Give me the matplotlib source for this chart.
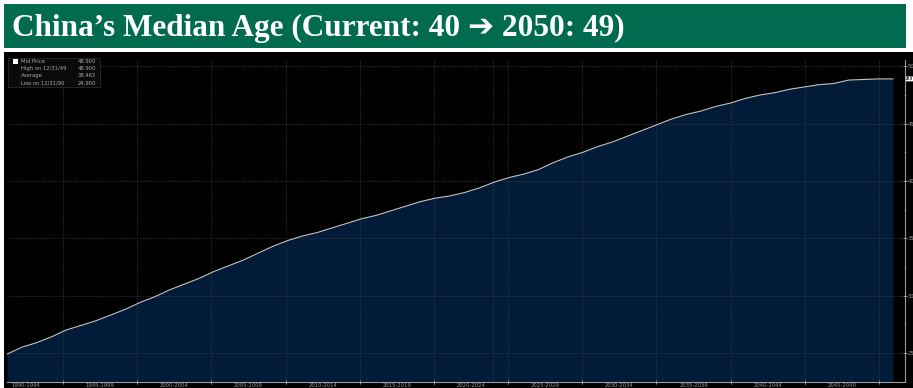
import matplotlib
matplotlib.use("Agg")
import matplotlib.pyplot as plt
import numpy as np
from matplotlib.patches import Rectangle

# China median age, annual, 1990-2050
years = list(range(1990, 2051))
median_age = [
    24.9, 25.5, 25.9, 26.4, 27.0, 27.4, 27.8, 28.3, 28.8, 29.4,
    29.9, 30.5, 31.0, 31.5, 32.1, 32.6, 33.1, 33.7, 34.3, 34.8,
    35.2, 35.5, 35.9, 36.3, 36.7, 37.0, 37.4, 37.8, 38.2, 38.5,
    38.7, 39.0, 39.4, 39.9, 40.3, 40.6, 41.0, 41.6, 42.1, 42.5,
    43.0, 43.4, 43.9, 44.4, 44.9, 45.4, 45.8, 46.1, 46.5, 46.8,
    47.2, 47.5, 47.7, 48.0, 48.2, 48.4, 48.5, 48.8, 48.85, 48.9,
    48.9,
]
period_labels = ["1990-1994", "1995-1999", "2000-2004", "2005-2009",
                 "2010-2014", "2015-2019", "2020-2024", "2025-2029",
                 "2030-2034", "2035-2039", "2040-2044", "2045-2049"]
y_ticks = [25, 30, 35, 40, 45, 50]
legend_rows = [("Mid Price", "48.900"), ("High on 12/31/49", "48.900"),
               ("Average", "38.462"), ("Low on 12/31/90", "24.900")]
title = "China\u2019s Median Age (Current: 40 \u2794 2050: 49)"
last_value = 48.9

W, H = 913, 388
fig = plt.figure(figsize=(W / 100, H / 100), dpi=100)
fig.patch.set_facecolor("white")


def fx(px):
    return px / W


def fy(py):
    return 1 - py / H


# green title banner
fig.patches.append(Rectangle((fx(4), fy(48)), fx(902), 44 / H,
                             transform=fig.transFigure, facecolor="#006B4F",
                             edgecolor="none", zorder=-2))
fig.text(fx(12), fy(28), title, color="white", fontsize=22.5,
         fontweight="bold", family=["Liberation Serif", "DejaVu Sans"],
         va="center", ha="left")

# black terminal panel
fig.patches.append(Rectangle((fx(4), 0), fx(909), fy(52),
                             transform=fig.transFigure, facecolor="black",
                             edgecolor="none", zorder=-2))

ax = fig.add_axes([fx(7), fy(382), fx(898), (382 - 60) / H])
ax.patch.set_alpha(0)

x = np.array(years, dtype=float)
y = np.array(median_age)
ymin, ymax = 22.47, 50.55
ax.fill_between(x, ymin, y, color="#021B38", lw=0, zorder=1)
ax.plot(x, y, color="#C4C4C4", lw=0.8, zorder=3)

x_left = 1990.0
x_right = 1990 + (905 - 7) / 14.767
ax.set_xlim(x_left, x_right)
ax.set_ylim(ymin, ymax)

# period boundaries and labels
bounds = np.linspace(1993.79, 2049.05, 12)
step = bounds[1] - bounds[0]
centers = np.concatenate([[bounds[0] - step / 2], bounds[:-1] + step / 2])
ax.set_xticks(bounds)
ax.set_xticklabels([])
for cx, lab in zip(centers, period_labels):
    ax.text(cx, -3.3 / 322, lab, transform=ax.get_xaxis_transform(),
            ha="center", va="center", color="#9A9A9A", fontsize=3.8)

ax.yaxis.tick_right()
ax.set_yticks(y_ticks)
ax.set_yticks([27.5, 32.5, 37.5, 42.5, 47.5], minor=True)
ax.set_yticklabels([str(v) for v in y_ticks], color="#9A9A9A", fontsize=3.8)
ax.tick_params(axis="y", which="major", length=3, width=0.6,
               color="#BBBBBB", pad=0.5, direction="inout")
ax.tick_params(axis="y", which="minor", length=2, width=0.5,
               color="#888888", direction="inout")
ax.tick_params(axis="x", length=3, width=0.6, color="#BBBBBB",
               direction="inout")

for v in y_ticks:
    ax.axhline(v, color="#3F3F3F", lw=0.6, ls=(0, (1, 1.5)), zorder=2)
for b in bounds:
    ax.axvline(b, color="#3F3F3F", lw=0.6, ls=(0, (1, 1.5)), zorder=2)
ax.axvline(2022.9, color="#3F3F3F", lw=0.6, ls=(0, (1, 1.5)), zorder=2)

for side in ("left", "top"):
    ax.spines[side].set_visible(False)
for side in ("right", "bottom"):
    ax.spines[side].set_color("#9A9A9A")
    ax.spines[side].set_linewidth(0.8)

# last value tag
ax.text(1.0015, last_value, "48.9", transform=ax.get_yaxis_transform(),
        ha="left", va="center", fontsize=2.1, color="black",
        fontweight="bold",
        bbox=dict(boxstyle="round,pad=0.15", fc="white", ec="none"),
        clip_on=False)

# legend box
fig.patches.append(Rectangle((fx(8), fy(87)), fx(92), 29 / H,
                             transform=fig.transFigure,
                             facecolor="#0A0A0A", edgecolor="#2A2A2A",
                             lw=0.6, zorder=5))
fig.patches.append(Rectangle((fx(13), fy(64)), fx(5), 5 / H,
                             transform=fig.transFigure, facecolor="white",
                             edgecolor="none", zorder=6))
for i, (name, val) in enumerate(legend_rows):
    yy = fy(61.5 + i * 7.2)
    fig.text(fx(21), yy, name, color="#A8A8A8", fontsize=3.8,
             va="center", ha="left", zorder=7)
    fig.text(fx(96), yy, val, color="#A8A8A8", fontsize=3.8,
             va="center", ha="right", zorder=7)

fig.savefig("out.png", dpi=100, facecolor=fig.get_facecolor())
